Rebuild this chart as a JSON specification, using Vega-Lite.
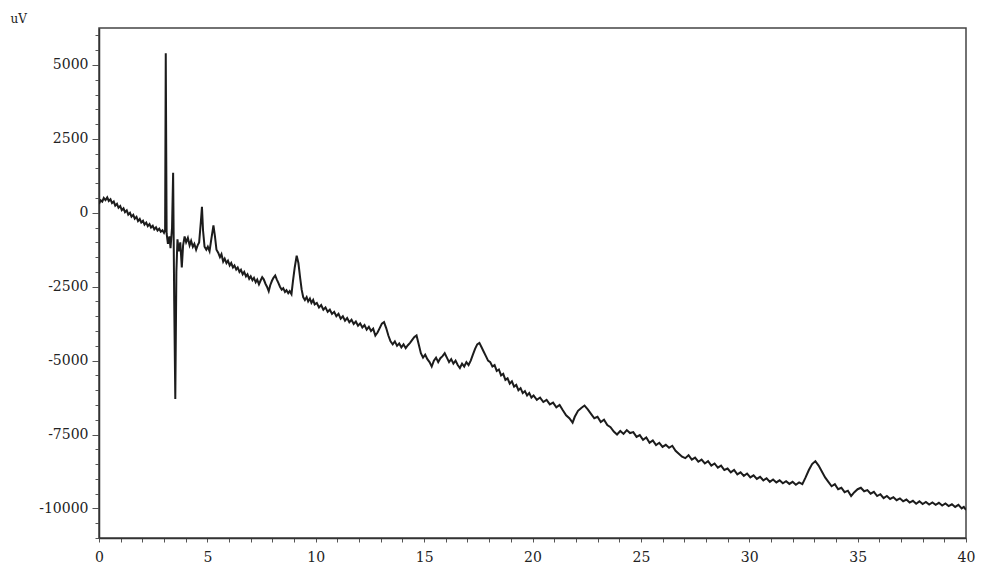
{
  "$schema": "https://vega.github.io/schema/vega-lite/v6.json",
  "width": 867,
  "height": 510,
  "autosize": "none",
  "padding": {"left": 99, "top": 28, "right": 16, "bottom": 28},
  "background": "white",
  "config": {
    "view": {"stroke": "#444", "strokeWidth": 1.5},
    "font": "DejaVu Serif"
  },
  "data": {
    "values": [
      {"t":0.00,"v":300},{"t":0.08,"v":420},{"t":0.15,"v":380},{"t":0.22,"v":500},{"t":0.30,"v":430},{"t":0.38,"v":520},{"t":0.45,"v":400},{"t":0.53,"v":460},{"t":0.60,"v":330},{"t":0.68,"v":380},{"t":0.75,"v":240},{"t":0.83,"v":300},{"t":0.90,"v":170},{"t":0.98,"v":230},{"t":1.05,"v":90},{"t":1.13,"v":150},{"t":1.20,"v":20},{"t":1.28,"v":80},{"t":1.35,"v":-60},{"t":1.43,"v":0},{"t":1.50,"v":-130},{"t":1.58,"v":-70},{"t":1.65,"v":-200},{"t":1.73,"v":-140},{"t":1.80,"v":-280},{"t":1.88,"v":-210},{"t":1.95,"v":-330},{"t":2.03,"v":-270},{"t":2.10,"v":-400},{"t":2.18,"v":-330},{"t":2.25,"v":-450},{"t":2.33,"v":-380},{"t":2.40,"v":-500},{"t":2.48,"v":-440},{"t":2.55,"v":-560},{"t":2.63,"v":-490},{"t":2.70,"v":-600},{"t":2.78,"v":-540},{"t":2.85,"v":-640},{"t":2.93,"v":-590},{"t":3.00,"v":-680},{"t":3.05,"v":-600},
      {"t":3.08,"v":5400},{"t":3.12,"v":-700},{"t":3.18,"v":-1050},{"t":3.25,"v":-800},{"t":3.30,"v":-1200},{"t":3.37,"v":-500},{"t":3.42,"v":1350},{"t":3.47,"v":-3000},{"t":3.52,"v":-6300},{"t":3.57,"v":-2000},{"t":3.62,"v":-900},{"t":3.68,"v":-1300},{"t":3.75,"v":-1000},{"t":3.82,"v":-1850},{"t":3.88,"v":-1100},{"t":3.95,"v":-800},
      {"t":4.02,"v":-1000},{"t":4.10,"v":-850},{"t":4.18,"v":-1100},{"t":4.25,"v":-950},{"t":4.33,"v":-1150},{"t":4.40,"v":-1050},{"t":4.48,"v":-1250},{"t":4.55,"v":-1100},{"t":4.62,"v":-1000},{"t":4.70,"v":-300},{"t":4.75,"v":200},{"t":4.80,"v":-600},{"t":4.87,"v":-1150},{"t":4.95,"v":-1250},{"t":5.02,"v":-1150},{"t":5.10,"v":-1300},{"t":5.18,"v":-900},{"t":5.28,"v":-430},{"t":5.35,"v":-800},{"t":5.42,"v":-1250},{"t":5.50,"v":-1350},{"t":5.58,"v":-1500},{"t":5.65,"v":-1400},{"t":5.73,"v":-1650},{"t":5.80,"v":-1550},{"t":5.88,"v":-1700},{"t":5.95,"v":-1620},
      {"t":6.03,"v":-1780},{"t":6.10,"v":-1700},{"t":6.18,"v":-1850},{"t":6.25,"v":-1780},{"t":6.33,"v":-1920},{"t":6.40,"v":-1850},{"t":6.48,"v":-2000},{"t":6.55,"v":-1930},{"t":6.63,"v":-2080},{"t":6.70,"v":-2000},{"t":6.78,"v":-2150},{"t":6.85,"v":-2080},{"t":6.93,"v":-2230},{"t":7.00,"v":-2150},{"t":7.08,"v":-2280},{"t":7.15,"v":-2200},{"t":7.23,"v":-2350},{"t":7.30,"v":-2260},{"t":7.38,"v":-2420},{"t":7.45,"v":-2300},{"t":7.53,"v":-2180},{"t":7.60,"v":-2250},{"t":7.68,"v":-2400},{"t":7.75,"v":-2500},{"t":7.83,"v":-2650},{"t":7.90,"v":-2450},{"t":7.98,"v":-2300},
      {"t":8.05,"v":-2200},{"t":8.13,"v":-2120},{"t":8.20,"v":-2250},{"t":8.28,"v":-2380},{"t":8.35,"v":-2500},{"t":8.43,"v":-2600},{"t":8.50,"v":-2550},{"t":8.58,"v":-2680},{"t":8.65,"v":-2620},{"t":8.73,"v":-2720},{"t":8.80,"v":-2650},{"t":8.88,"v":-2750},{"t":8.95,"v":-2300},{"t":9.03,"v":-1850},{"t":9.12,"v":-1450},{"t":9.20,"v":-1700},{"t":9.28,"v":-2200},{"t":9.35,"v":-2600},{"t":9.42,"v":-2850},{"t":9.50,"v":-2950},{"t":9.58,"v":-2850},{"t":9.65,"v":-3000},{"t":9.73,"v":-2900},{"t":9.80,"v":-3050},{"t":9.88,"v":-2950},{"t":9.95,"v":-3100},
      {"t":10.05,"v":-3050},{"t":10.15,"v":-3200},{"t":10.25,"v":-3120},{"t":10.35,"v":-3280},{"t":10.45,"v":-3200},{"t":10.55,"v":-3350},{"t":10.65,"v":-3280},{"t":10.75,"v":-3420},{"t":10.85,"v":-3350},{"t":10.95,"v":-3500},{"t":11.05,"v":-3420},{"t":11.15,"v":-3580},{"t":11.25,"v":-3500},{"t":11.35,"v":-3650},{"t":11.45,"v":-3560},{"t":11.55,"v":-3700},{"t":11.65,"v":-3620},{"t":11.75,"v":-3760},{"t":11.85,"v":-3680},{"t":11.95,"v":-3820},
      {"t":12.05,"v":-3740},{"t":12.15,"v":-3880},{"t":12.25,"v":-3800},{"t":12.35,"v":-3950},{"t":12.45,"v":-3860},{"t":12.55,"v":-4000},{"t":12.65,"v":-3920},{"t":12.75,"v":-4150},{"t":12.85,"v":-4050},{"t":12.95,"v":-3900},{"t":13.05,"v":-3750},{"t":13.15,"v":-3700},{"t":13.25,"v":-3900},{"t":13.35,"v":-4150},{"t":13.45,"v":-4350},{"t":13.55,"v":-4450},{"t":13.65,"v":-4350},{"t":13.75,"v":-4500},{"t":13.85,"v":-4420},{"t":13.95,"v":-4550},
      {"t":14.05,"v":-4450},{"t":14.15,"v":-4580},{"t":14.25,"v":-4480},{"t":14.35,"v":-4400},{"t":14.45,"v":-4300},{"t":14.55,"v":-4200},{"t":14.65,"v":-4150},{"t":14.75,"v":-4450},{"t":14.85,"v":-4750},{"t":14.95,"v":-4900},{"t":15.05,"v":-4800},{"t":15.15,"v":-4950},{"t":15.25,"v":-5050},{"t":15.35,"v":-5200},{"t":15.45,"v":-5000},{"t":15.55,"v":-4900},{"t":15.65,"v":-5050},{"t":15.75,"v":-4920},{"t":15.85,"v":-4850},{"t":15.95,"v":-4750},
      {"t":16.05,"v":-4900},{"t":16.15,"v":-5050},{"t":16.25,"v":-4950},{"t":16.35,"v":-5100},{"t":16.45,"v":-5000},{"t":16.55,"v":-5150},{"t":16.65,"v":-5250},{"t":16.75,"v":-5100},{"t":16.85,"v":-5200},{"t":16.95,"v":-5050},{"t":17.05,"v":-5150},{"t":17.15,"v":-5000},{"t":17.25,"v":-4800},{"t":17.35,"v":-4600},{"t":17.45,"v":-4450},{"t":17.55,"v":-4400},{"t":17.65,"v":-4550},{"t":17.75,"v":-4700},{"t":17.85,"v":-4850},{"t":17.95,"v":-5000},
      {"t":18.05,"v":-5050},{"t":18.15,"v":-5200},{"t":18.25,"v":-5150},{"t":18.35,"v":-5350},{"t":18.45,"v":-5300},{"t":18.55,"v":-5500},{"t":18.65,"v":-5450},{"t":18.75,"v":-5650},{"t":18.85,"v":-5600},{"t":18.95,"v":-5780},{"t":19.05,"v":-5700},{"t":19.15,"v":-5880},{"t":19.25,"v":-5820},{"t":19.35,"v":-6000},{"t":19.45,"v":-5930},{"t":19.55,"v":-6100},{"t":19.65,"v":-6030},{"t":19.75,"v":-6180},{"t":19.85,"v":-6100},{"t":19.95,"v":-6250},
      {"t":20.05,"v":-6180},{"t":20.2,"v":-6330},{"t":20.35,"v":-6250},{"t":20.5,"v":-6400},{"t":20.65,"v":-6330},{"t":20.8,"v":-6480},{"t":20.95,"v":-6420},{"t":21.1,"v":-6580},{"t":21.25,"v":-6500},{"t":21.4,"v":-6680},{"t":21.55,"v":-6850},{"t":21.7,"v":-6950},{"t":21.85,"v":-7100},{"t":21.95,"v":-6900},{"t":22.1,"v":-6700},{"t":22.25,"v":-6600},{"t":22.4,"v":-6520},{"t":22.55,"v":-6650},{"t":22.7,"v":-6800},{"t":22.85,"v":-6950},
      {"t":23.0,"v":-6900},{"t":23.15,"v":-7080},{"t":23.3,"v":-7000},{"t":23.45,"v":-7180},{"t":23.6,"v":-7250},{"t":23.75,"v":-7400},{"t":23.9,"v":-7500},{"t":24.05,"v":-7380},{"t":24.2,"v":-7480},{"t":24.35,"v":-7350},{"t":24.5,"v":-7450},{"t":24.65,"v":-7420},{"t":24.8,"v":-7580},{"t":24.95,"v":-7520},
      {"t":25.1,"v":-7680},{"t":25.25,"v":-7600},{"t":25.4,"v":-7780},{"t":25.55,"v":-7700},{"t":25.7,"v":-7860},{"t":25.85,"v":-7780},{"t":26.0,"v":-7920},{"t":26.15,"v":-7850},{"t":26.3,"v":-7950},{"t":26.45,"v":-7880},{"t":26.6,"v":-8050},{"t":26.75,"v":-8150},{"t":26.9,"v":-8250},{"t":27.05,"v":-8300},{"t":27.2,"v":-8200},{"t":27.35,"v":-8350},{"t":27.5,"v":-8280},{"t":27.65,"v":-8420},{"t":27.8,"v":-8350},{"t":27.95,"v":-8480},
      {"t":28.1,"v":-8400},{"t":28.25,"v":-8550},{"t":28.4,"v":-8480},{"t":28.55,"v":-8620},{"t":28.7,"v":-8550},{"t":28.85,"v":-8700},{"t":29.0,"v":-8650},{"t":29.15,"v":-8780},{"t":29.3,"v":-8700},{"t":29.45,"v":-8850},{"t":29.6,"v":-8780},{"t":29.75,"v":-8900},{"t":29.9,"v":-8820},
      {"t":30.05,"v":-8950},{"t":30.2,"v":-8880},{"t":30.35,"v":-9000},{"t":30.5,"v":-8930},{"t":30.65,"v":-9050},{"t":30.8,"v":-8980},{"t":30.95,"v":-9100},{"t":31.1,"v":-9020},{"t":31.25,"v":-9120},{"t":31.4,"v":-9050},{"t":31.55,"v":-9150},{"t":31.7,"v":-9080},{"t":31.85,"v":-9170},{"t":32.0,"v":-9100},{"t":32.15,"v":-9200},{"t":32.3,"v":-9120},{"t":32.45,"v":-9180},{"t":32.6,"v":-8950},{"t":32.75,"v":-8700},{"t":32.9,"v":-8500},
      {"t":33.05,"v":-8400},{"t":33.2,"v":-8550},{"t":33.35,"v":-8750},{"t":33.5,"v":-8950},{"t":33.65,"v":-9100},{"t":33.8,"v":-9250},{"t":33.95,"v":-9180},{"t":34.1,"v":-9350},{"t":34.25,"v":-9300},{"t":34.4,"v":-9450},{"t":34.55,"v":-9400},{"t":34.7,"v":-9580},{"t":34.85,"v":-9450},{"t":35.0,"v":-9350},{"t":35.15,"v":-9300},{"t":35.3,"v":-9420},{"t":35.45,"v":-9380},{"t":35.6,"v":-9500},{"t":35.75,"v":-9440},{"t":35.9,"v":-9580},
      {"t":36.05,"v":-9520},{"t":36.2,"v":-9650},{"t":36.35,"v":-9580},{"t":36.5,"v":-9680},{"t":36.65,"v":-9620},{"t":36.8,"v":-9720},{"t":36.95,"v":-9660},{"t":37.1,"v":-9760},{"t":37.25,"v":-9700},{"t":37.4,"v":-9800},{"t":37.55,"v":-9740},{"t":37.7,"v":-9840},{"t":37.85,"v":-9760},
      {"t":38.0,"v":-9850},{"t":38.15,"v":-9780},{"t":38.3,"v":-9870},{"t":38.45,"v":-9800},{"t":38.6,"v":-9880},{"t":38.75,"v":-9810},{"t":38.9,"v":-9900},{"t":39.05,"v":-9830},{"t":39.2,"v":-9920},{"t":39.35,"v":-9860},{"t":39.5,"v":-9950},{"t":39.65,"v":-9880},{"t":39.8,"v":-10000},{"t":39.9,"v":-9950},{"t":40.0,"v":-10050}
    ]
  },
  "mark": {"type": "line", "color": "#1c1c1c", "strokeWidth": 2, "strokeJoin": "miter", "clip": true},
  "encoding": {
    "x": {
      "field": "t",
      "type": "quantitative",
      "scale": {"domain": [0, 40], "nice": false, "zero": false},
      "axis": {
        "title": null,
        "grid": false,
        "values": [0,1,2,3,4,5,6,7,8,9,10,11,12,13,14,15,16,17,18,19,20,21,22,23,24,25,26,27,28,29,30,31,32,33,34,35,36,37,38,39,40],
        "labelExpr": "datum.value % 5 === 0 ? '' + datum.value : ''",
        "domainColor": "#333",
        "domainWidth": 1.5,
        "tickColor": "#555",
        "tickSize": 4,
        "labelPadding": 8,
        "labelFont": "DejaVu Serif",
        "labelFontSize": 14,
        "labelColor": "#222",
        "labelFlush": false,
        "labelOverlap": false
      }
    },
    "y": {
      "field": "v",
      "type": "quantitative",
      "scale": {"domain": [-11000, 6250], "nice": false, "zero": false},
      "axis": {
        "title": "uV",
        "titleAngle": 0,
        "titleX": -89,
        "titleY": -10,
        "titleAlign": "left",
        "titleBaseline": "middle",
        "titleFont": "DejaVu Serif",
        "titleFontSize": 12,
        "titleFontWeight": "normal",
        "titleColor": "#222",
        "grid": false,
        "values": [-11000,-10500,-10000,-9500,-9000,-8500,-8000,-7500,-7000,-6500,-6000,-5500,-5000,-4500,-4000,-3500,-3000,-2500,-2000,-1500,-1000,-500,0,500,1000,1500,2000,2500,3000,3500,4000,4500,5000,5500,6000],
        "labelExpr": "datum.value % 2500 === 0 ? '' + datum.value : ''",
        "domainColor": "#333",
        "domainWidth": 1.5,
        "tickColor": "#555",
        "tickSize": {"condition": {"test": "datum.value % 2500 === 0", "value": 7}, "value": 4},
        "labelPadding": 4,
        "labelFont": "DejaVu Serif",
        "labelFontSize": 14,
        "labelColor": "#222",
        "labelFlush": false,
        "labelOverlap": false
      }
    }
  }
}
